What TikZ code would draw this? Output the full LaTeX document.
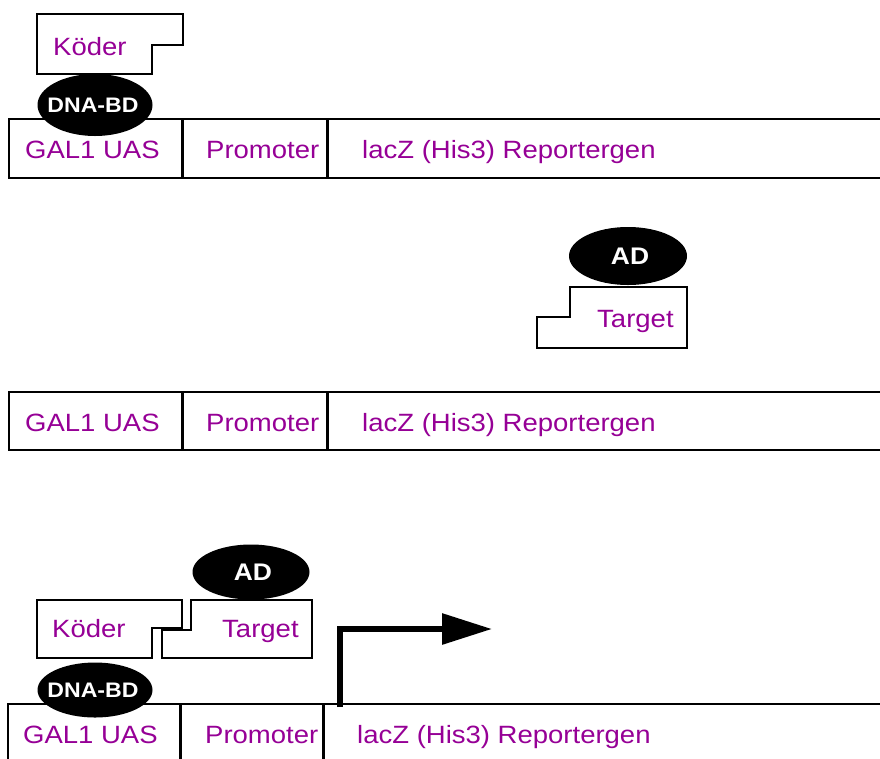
\documentclass[tikz,border=0pt]{standalone}
\usepackage{fontspec}
\usetikzlibrary{shapes.geometric,arrows.meta}
\newfontfamily\lab[FakeStretch=1.1]{Liberation Sans}
\definecolor{txtpurple}{RGB}{150,0,150}
\tikzset{
  genebox/.style={draw=black, line width=2pt},
  divider/.style={draw=black, line width=3pt},
  protbox/.style={draw=black, line width=2.8pt, line join=miter, fill=white},
  lbl/.style={anchor=base west, inner sep=0pt, text=txtpurple, font=\lab\fontsize{25}{30}\selectfont},
  blob/.style={fill=black},
  dbdtext/.style={inner sep=0pt, text=white, font=\lab\bfseries\fontsize{21}{24}\selectfont},
  adtext/.style={inner sep=0pt, text=white, font=\lab\bfseries\fontsize{24}{28}\selectfont},
  transcr/.style={draw=black, line width=6pt, line join=miter, -{Triangle[length=50pt,width=30pt]}}
}
\begin{document}
\begin{tikzpicture}[x=1pt,y=-1pt]
\useasboundingbox (0,0) rectangle (880,758);
\clip (0,0) rectangle (880,758);
\fill[white] (0,0) rectangle (880,758);

% ---------- Row 1 ----------
\draw[genebox] (9,119) rectangle (895,178);
\draw[divider] (182,119) -- (182,178);
\draw[divider] (327,119) -- (327,178);
\node[lbl] (uasA) at (25,158) {GAL1 UAS};
\node[lbl] (promA) at (206,158) {Promoter};
\node[lbl] (laczA) at (362,158) {lacZ (His3) Reportergen};
\draw[protbox] (37,14) -- (183,14) -- (183,45) -- (152,45) -- (152,74) -- (37,74) -- cycle;
\node[lbl] (koederA) at (53,55) {Köder};
\fill[blob] (95,105) ellipse [x radius=57.5, y radius=31];
\node[dbdtext] (dbdA) at (93,105) {DNA-BD};

% ---------- Row 2 ----------
\draw[genebox] (9,392) rectangle (895,450);
\draw[divider] (182,392) -- (182,450);
\draw[divider] (327,392) -- (327,450);
\node[lbl] (uasB) at (25,431) {GAL1 UAS};
\node[lbl] (promB) at (206,431) {Promoter};
\node[lbl] (laczB) at (362,431) {lacZ (His3) Reportergen};
\draw[protbox] (570,287) -- (687,287) -- (687,348) -- (537,348) -- (537,317) -- (570,317) -- cycle;
\node[lbl] (targetB) at (597,327) {Target};
\fill[blob] (628,256) ellipse [x radius=59, y radius=29];
\node[adtext] (adB) at (630,256) {AD};

% ---------- Row 3 ----------
\draw[genebox] (8,704) rectangle (895,790);
\draw[divider] (180,704) -- (180,790);
\draw[divider] (323,704) -- (323,790);
\node[lbl] (uasC) at (23,743) {GAL1 UAS};
\node[lbl] (promC) at (205,743) {Promoter};
\node[lbl] (laczC) at (357,743) {lacZ (His3) Reportergen};
\draw[protbox] (37,600) -- (182,600) -- (182,628) -- (152,628) -- (152,658) -- (37,658) -- cycle;
\node[lbl] (koederC) at (52,637) {Köder};
\draw[protbox] (191,600) -- (312,600) -- (312,658) -- (162,658) -- (162,630) -- (191,630) -- cycle;
\node[lbl] (targetC) at (222,637) {Target};
\fill[blob] (251,572) ellipse [x radius=58.5, y radius=27.5];
\node[adtext] (adC) at (253,572) {AD};
\fill[blob] (95,690) ellipse [x radius=57.5, y radius=27.5];
\node[dbdtext] (dbdC) at (93,690) {DNA-BD};

% transcription arrow
\coordinate (tss) at (340,707);
\coordinate (tipend) at (492,629);
\draw[transcr] (tss) |- (tipend);
\end{tikzpicture}
\end{document}
